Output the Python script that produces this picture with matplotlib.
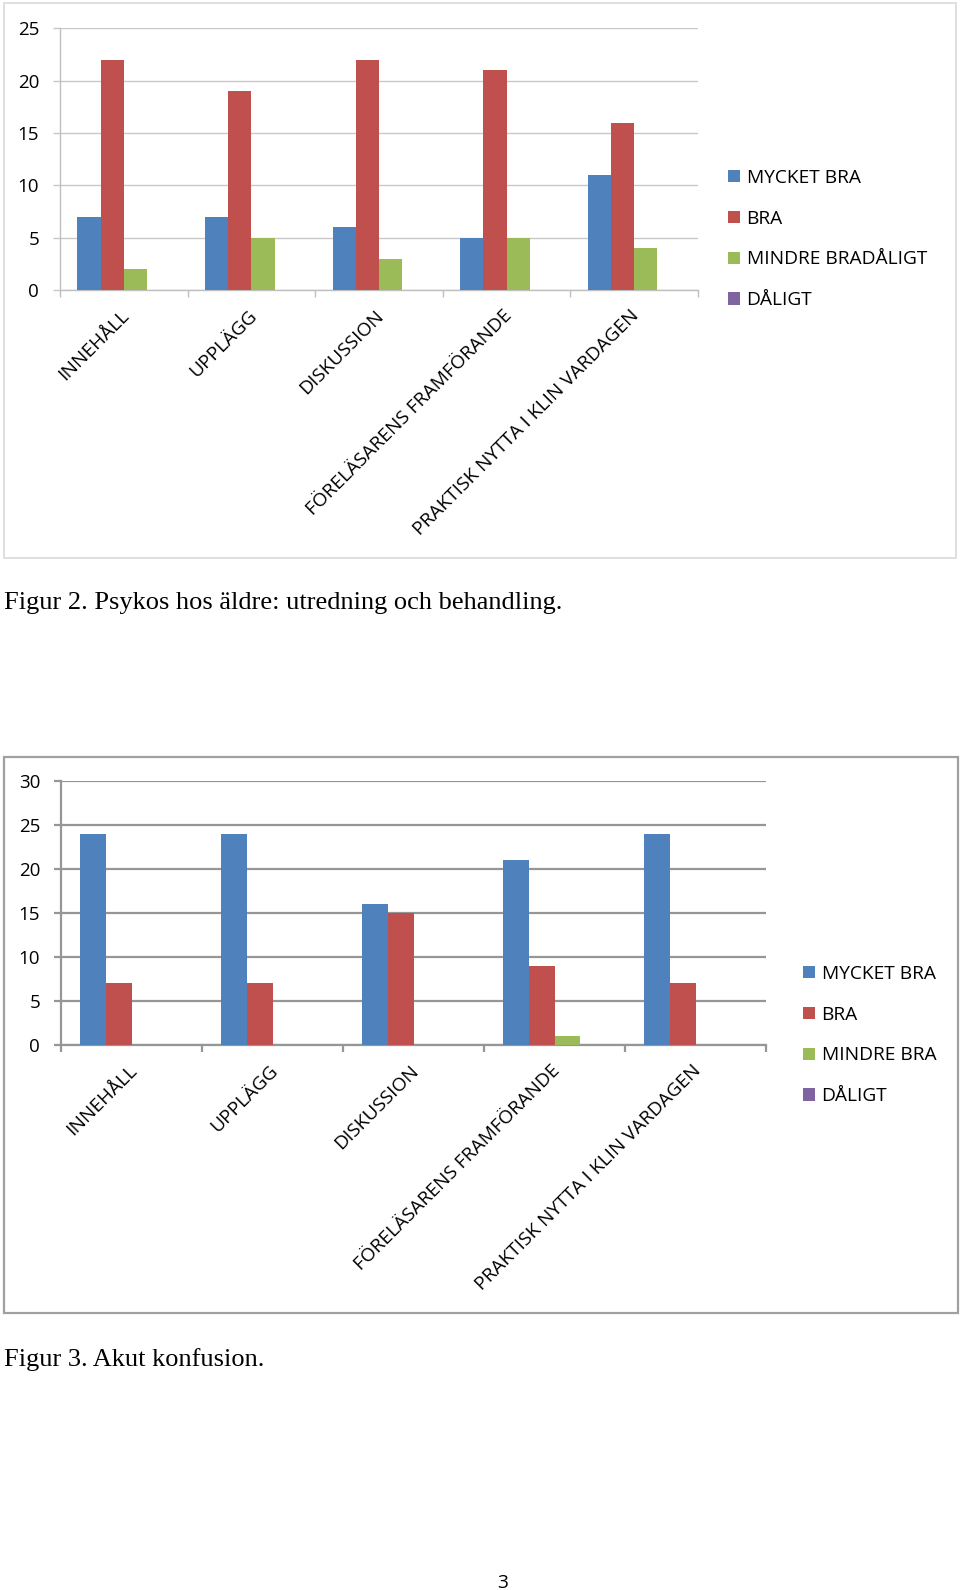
import matplotlib
matplotlib.use("Agg")
import matplotlib.pyplot as plt
import matplotlib.transforms as mtransforms
import numpy as np
from matplotlib.patches import Patch, Rectangle

plt.rcParams["font.family"] = ["Open Sans", "DejaVu Sans"]

W, H = 960, 1590  # output size in pixels (dpi 100)

CATEGORIES = [
    "INNEHÅLL",
    "UPPLÄGG",
    "DISKUSSION",
    "FÖRELÄSARENS FRAMFÖRANDE",
    "PRAKTISK NYTTA I KLIN VARDAGEN",
]
SERIES_COLOURS = ["#4F81BD", "#C0504D", "#9BBB59", "#8064A2"]

# Figur 2 - Psykos hos äldre
FIG2_LABELS = ["MYCKET BRA", "BRA", "MINDRE BRADÅLIGT", "DÅLIGT"]
FIG2_MYCKET_BRA = [7, 7, 6, 5, 11]
FIG2_BRA = [22, 19, 22, 21, 16]
FIG2_MINDRE_BRA = [2, 5, 3, 5, 4]
FIG2_DALIGT = [0, 0, 0, 0, 0]
FIG2_YTICKS = [0, 5, 10, 15, 20, 25]

# Figur 3 - Akut konfusion
FIG3_LABELS = ["MYCKET BRA", "BRA", "MINDRE BRA", "DÅLIGT"]
FIG3_MYCKET_BRA = [24, 24, 16, 21, 24]
FIG3_BRA = [7, 7, 15, 9, 7]
FIG3_MINDRE_BRA = [0, 0, 0, 1, 0]
FIG3_DALIGT = [0, 0, 0, 0, 0]
FIG3_YTICKS = [0, 5, 10, 15, 20, 25, 30]

CAPTION_2 = "Figur 2. Psykos hos äldre: utredning och behandling."
CAPTION_3 = "Figur 3. Akut konfusion."
PAGE_NO = "3"

FS = 13.8  # Calibri-ish size, in points


def px_rect(left, top, right, bottom):
    """Pixel box (top-left origin) -> figure fraction rect."""
    return [left / W, 1 - bottom / H, (right - left) / W, (bottom - top) / H]


def chart_frame(fig, left, top, right, bottom, colour, lw):
    l, b, w, h = px_rect(left, top, right, bottom)
    fig.add_artist(Rectangle((l, b), w, h, transform=fig.transFigure,
                             fill=False, edgecolor=colour, linewidth=lw))


def draw_chart(fig, rect, series, labels, yticks, grid_colour, grid_lw,
               axis_colour, legend_xy):
    ax = fig.add_axes(px_rect(*rect))
    n = len(CATEGORIES)
    x = np.arange(n)
    bar_w = 1 / 5.5  # Excel gap width 150 %, 4 series
    for k, (vals, col) in enumerate(zip(series, SERIES_COLOURS)):
        ax.bar(x + (k - 1.5) * bar_w, vals, width=bar_w, color=col,
               linewidth=0, zorder=3)

    ax.set_xlim(-0.5, n - 0.5)
    ax.set_ylim(yticks[0], yticks[-1])
    ax.set_yticks(yticks)
    ax.yaxis.grid(True, color=grid_colour, linewidth=grid_lw)
    ax.set_axisbelow(True)
    ax.tick_params(axis="y", length=5, width=grid_lw, color=grid_colour,
                   pad=10, labelsize=FS - 0.3)

    for side in ("top", "right"):
        ax.spines[side].set_visible(False)
    for side in ("left", "bottom"):
        ax.spines[side].set_color(axis_colour)
        ax.spines[side].set_linewidth(grid_lw)

    # category boundaries carry the tick marks, centres carry the labels
    ax.set_xticks(np.arange(n + 1) - 0.5, minor=True)
    ax.tick_params(axis="x", which="minor", length=5, width=grid_lw,
                   color=axis_colour)
    ax.set_xticks(x)
    ax.set_xticklabels(CATEGORIES, rotation=45, ha="right", va="top",
                       rotation_mode="anchor", fontsize=FS)
    ax.tick_params(axis="x", which="major", length=0, pad=12)
    shift = mtransforms.ScaledTranslation(-4 / 100, 0, fig.dpi_scale_trans)
    for lab in ax.get_xticklabels():
        lab.set_transform(lab.get_transform() + shift)

    handles = [Patch(facecolor=c, edgecolor="none") for c in SERIES_COLOURS]
    fig.legend(handles, labels, loc="center left",
               bbox_to_anchor=(legend_xy[0] / W, 1 - legend_xy[1] / H),
               frameon=False, fontsize=FS, handlelength=0.6,
               handleheight=0.6, handletextpad=0.37, labelspacing=1.19,
               borderpad=0, borderaxespad=0)
    return ax


fig = plt.figure(figsize=(W / 100, H / 100), dpi=100)

# ---- Figur 2 ----
chart_frame(fig, 3.5, 3.5, 956, 558, "#d9d9d9", 1.2)
draw_chart(
    fig, (60, 28.3, 698, 290),
    [FIG2_MYCKET_BRA, FIG2_BRA, FIG2_MINDRE_BRA, FIG2_DALIGT],
    FIG2_LABELS, FIG2_YTICKS,
    grid_colour="#c8c8c8", grid_lw=1.0, axis_colour="#bfbfbf",
    legend_xy=(728, 239),
)
fig.text(4 / W, 1 - 609 / H, CAPTION_2, family="Liberation Serif",
         fontsize=19, va="baseline", ha="left")

# ---- Figur 3 ----
chart_frame(fig, 3.5, 757, 958, 1313, "#a0a0a0", 1.6)
draw_chart(
    fig, (61, 781, 766, 1045),
    [FIG3_MYCKET_BRA, FIG3_BRA, FIG3_MINDRE_BRA, FIG3_DALIGT],
    FIG3_LABELS, FIG3_YTICKS,
    grid_colour="#969696", grid_lw=1.6, axis_colour="#969696",
    legend_xy=(803, 1035),
)
fig.text(4 / W, 1 - 1366 / H, CAPTION_3, family="Liberation Serif",
         fontsize=19, va="baseline", ha="left")

fig.text(503 / W, 1 - 1588 / H, PAGE_NO, fontsize=FS, ha="center",
         va="baseline")

fig.savefig("out.png", dpi=100)
